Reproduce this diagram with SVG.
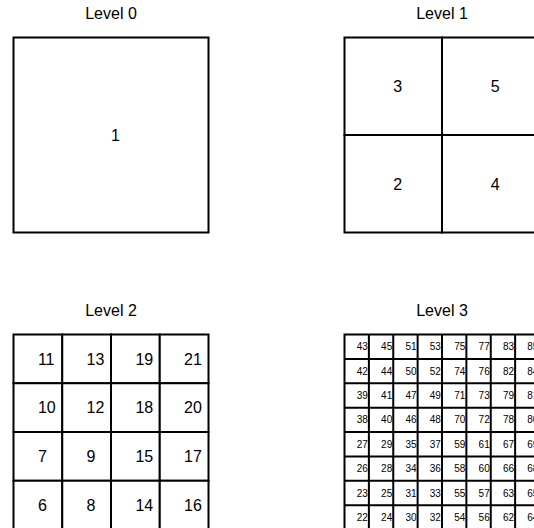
<svg xmlns="http://www.w3.org/2000/svg" width="534" height="528" viewBox="0 0 534 528">
<style>
rect{fill:#fff;stroke:#000;stroke-width:2}
text{font-family:"Liberation Sans",Arial,sans-serif;fill:#000}
.t{font-size:16px;text-anchor:middle}
.n{font-size:16px}
.s{font-size:10px}
</style>
<rect x="0" y="0" width="534" height="528" style="stroke:none"/>
<g id="connectors"/>
<g id="level0">
<text class="t" x="111" y="19">Level 0</text>
<g id="c1"><rect x="13.5" y="37.5" width="195" height="195"/><text class="n" x="111" y="140.8">1</text></g>
</g>
<g id="level1">
<text class="t" x="442" y="19">Level 1</text>
<g id="c3"><rect x="344.5" y="37.5" width="97.5" height="97.5"/><text class="n" x="393.25" y="92">3</text></g>
<g id="c5"><rect x="442" y="37.5" width="97.5" height="97.5"/><text class="n" x="490.75" y="92">5</text></g>
<g id="c2"><rect x="344.5" y="135" width="97.5" height="97.5"/><text class="n" x="393.25" y="189.5">2</text></g>
<g id="c4"><rect x="442" y="135" width="97.5" height="97.5"/><text class="n" x="490.75" y="189.5">4</text></g>
</g>
<g id="level2">
<text class="t" x="111" y="316">Level 2</text>
<g id="c11"><rect x="13.5" y="334.5" width="48.75" height="48.75"/><text class="n" x="37.9" y="364.7">11</text></g>
<g id="c13"><rect x="62.25" y="334.5" width="48.75" height="48.75"/><text class="n" x="86.6" y="364.7">13</text></g>
<g id="c19"><rect x="111" y="334.5" width="48.75" height="48.75"/><text class="n" x="135.4" y="364.7">19</text></g>
<g id="c21"><rect x="159.75" y="334.5" width="48.75" height="48.75"/><text class="n" x="184.1" y="364.7">21</text></g>
<g id="c10"><rect x="13.5" y="383.25" width="48.75" height="48.75"/><text class="n" x="37.9" y="413.4">10</text></g>
<g id="c12"><rect x="62.25" y="383.25" width="48.75" height="48.75"/><text class="n" x="86.6" y="413.4">12</text></g>
<g id="c18"><rect x="111" y="383.25" width="48.75" height="48.75"/><text class="n" x="135.4" y="413.4">18</text></g>
<g id="c20"><rect x="159.75" y="383.25" width="48.75" height="48.75"/><text class="n" x="184.1" y="413.4">20</text></g>
<g id="c7"><rect x="13.5" y="432" width="48.75" height="48.75"/><text class="n" x="37.9" y="462.2">7</text></g>
<g id="c9"><rect x="62.25" y="432" width="48.75" height="48.75"/><text class="n" x="86.6" y="462.2">9</text></g>
<g id="c15"><rect x="111" y="432" width="48.75" height="48.75"/><text class="n" x="135.4" y="462.2">15</text></g>
<g id="c17"><rect x="159.75" y="432" width="48.75" height="48.75"/><text class="n" x="184.1" y="462.2">17</text></g>
<g id="c6"><rect x="13.5" y="480.75" width="48.75" height="48.75"/><text class="n" x="37.9" y="510.9">6</text></g>
<g id="c8"><rect x="62.25" y="480.75" width="48.75" height="48.75"/><text class="n" x="86.6" y="510.9">8</text></g>
<g id="c14"><rect x="111" y="480.75" width="48.75" height="48.75"/><text class="n" x="135.4" y="510.9">14</text></g>
<g id="c16"><rect x="159.75" y="480.75" width="48.75" height="48.75"/><text class="n" x="184.1" y="510.9">16</text></g>
</g>
<g id="level3">
<text class="t" x="442" y="316">Level 3</text>
<g id="grid3">
<rect x="344.5" y="334.5" width="195" height="195"/>
<path d="M368.875 334.5V529.5M393.25 334.5V529.5M417.625 334.5V529.5M442 334.5V529.5M466.375 334.5V529.5M490.75 334.5V529.5M515.125 334.5V529.5M344.5 358.875H539.5M344.5 383.25H539.5M344.5 407.625H539.5M344.5 432H539.5M344.5 456.375H539.5M344.5 480.75H539.5M344.5 505.125H539.5" fill="none" stroke="#000" stroke-width="2"/>
</g>
<g id="labels3" class="s">
<text x="356.7" y="350.3">43</text><text x="381.1" y="350.3">45</text><text x="405.4" y="350.3">51</text><text x="429.8" y="350.3">53</text><text x="454.2" y="350.3">75</text><text x="478.6" y="350.3">77</text><text x="502.9" y="350.3">83</text><text x="527.3" y="350.3">85</text>
<text x="356.7" y="374.7">42</text><text x="381.1" y="374.7">44</text><text x="405.4" y="374.7">50</text><text x="429.8" y="374.7">52</text><text x="454.2" y="374.7">74</text><text x="478.6" y="374.7">76</text><text x="502.9" y="374.7">82</text><text x="527.3" y="374.7">84</text>
<text x="356.7" y="399.0">39</text><text x="381.1" y="399.0">41</text><text x="405.4" y="399.0">47</text><text x="429.8" y="399.0">49</text><text x="454.2" y="399.0">71</text><text x="478.6" y="399.0">73</text><text x="502.9" y="399.0">79</text><text x="527.3" y="399.0">81</text>
<text x="356.7" y="423.4">38</text><text x="381.1" y="423.4">40</text><text x="405.4" y="423.4">46</text><text x="429.8" y="423.4">48</text><text x="454.2" y="423.4">70</text><text x="478.6" y="423.4">72</text><text x="502.9" y="423.4">78</text><text x="527.3" y="423.4">80</text>
<text x="356.7" y="447.8">27</text><text x="381.1" y="447.8">29</text><text x="405.4" y="447.8">35</text><text x="429.8" y="447.8">37</text><text x="454.2" y="447.8">59</text><text x="478.6" y="447.8">61</text><text x="502.9" y="447.8">67</text><text x="527.3" y="447.8">69</text>
<text x="356.7" y="472.2">26</text><text x="381.1" y="472.2">28</text><text x="405.4" y="472.2">34</text><text x="429.8" y="472.2">36</text><text x="454.2" y="472.2">58</text><text x="478.6" y="472.2">60</text><text x="502.9" y="472.2">66</text><text x="527.3" y="472.2">68</text>
<text x="356.7" y="496.5">23</text><text x="381.1" y="496.5">25</text><text x="405.4" y="496.5">31</text><text x="429.8" y="496.5">33</text><text x="454.2" y="496.5">55</text><text x="478.6" y="496.5">57</text><text x="502.9" y="496.5">63</text><text x="527.3" y="496.5">65</text>
<text x="356.7" y="520.9">22</text><text x="381.1" y="520.9">24</text><text x="405.4" y="520.9">30</text><text x="429.8" y="520.9">32</text><text x="454.2" y="520.9">54</text><text x="478.6" y="520.9">56</text><text x="502.9" y="520.9">62</text><text x="527.3" y="520.9">64</text>
</g>
</g>
</svg>
